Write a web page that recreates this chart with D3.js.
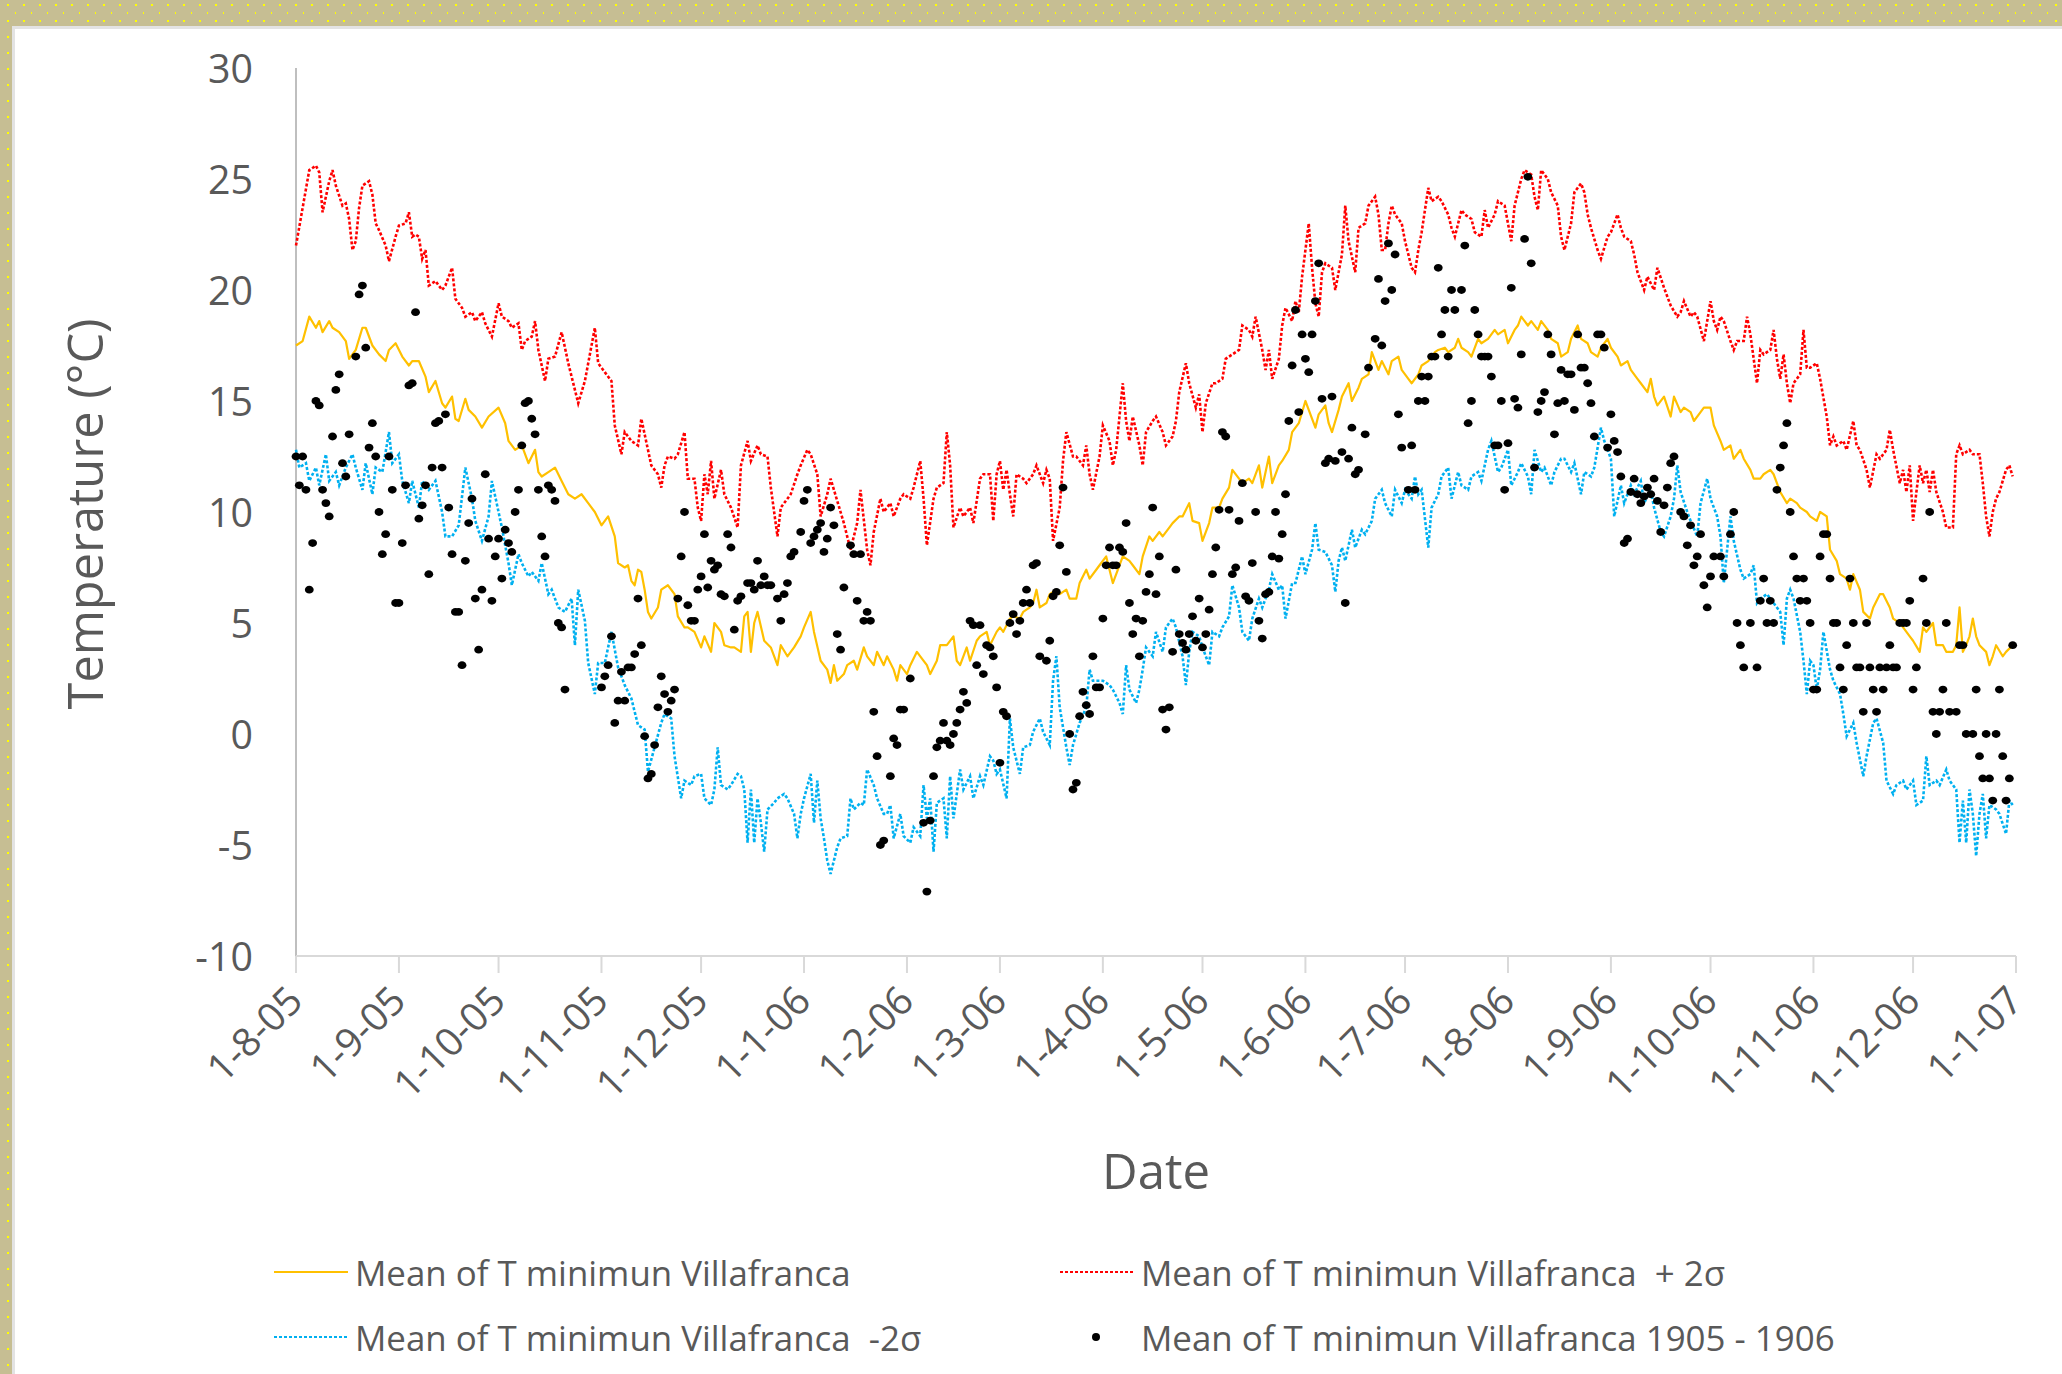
<!DOCTYPE html>
<html><head><meta charset="utf-8">
<script src="https://cdn.jsdelivr.net/npm/d3@7"></script>
<style>html,body{margin:0;padding:0;background:#fff;overflow:hidden}</style>
</head><body>
<svg id="chart" width="2062" height="1374"></svg>
<script>
// ---------------- data ----------------
const startDate = "1905-08-01";           // day 0 of the series
const tickLabels = ["1-8-05","1-9-05","1-10-05","1-11-05","1-12-05","1-1-06","1-2-06","1-3-06","1-4-06","1-5-06","1-6-06","1-7-06","1-8-06","1-9-06","1-10-06","1-11-06","1-12-06","1-1-07"];
const yTicks = [-10,-5,0,5,10,15,20,25,30];
const legendLabels = ["Mean of T minimun Villafranca","Mean of T minimun Villafranca  + 2\u03c3","Mean of T minimun Villafranca  -2\u03c3","Mean of T minimun Villafranca 1905 - 1906"];

// [day since 1-8-05, °C]
const meanSeries = [[0,17.5],[2,17.7],[4,18.8],[6,18.3],[7,18.6],[8,18.1],[10,18.6],[11,18.3],[13,18.1],[15,17.7],[16,16.9],[18,17.3],[20,18.3],[21,18.3],[23,17.5],[25,17.1],[27,16.8],[28,17.3],[30,17.6],[32,17.0],[34,16.6],[35,16.8],[37,16.8],[39,16.1],[40,15.4],[42,15.9],[44,14.9],[45,14.7],[47,15.2],[48,14.2],[49,14.1],[51,15.1],[52,14.6],[54,14.3],[56,13.8],[58,14.3],[61,14.7],[63,14.0],[64,13.2],[66,12.8],[68,13.0],[70,12.2],[72,12.8],[73,11.8],[74,11.6],[76,11.8],[78,12.0],[80,11.4],[82,10.8],[84,10.6],[86,10.8],[88,10.4],[90,10.0],[92,9.4],[94,9.8],[96,8.9],[97,7.7],[99,7.5],[100,7.6],[101,6.9],[102,6.7],[103,7.4],[104,7.3],[105,6.5],[106,5.5],
[107,5.2],[109,5.7],[110,6.5],[112,6.7],[114,6.3],[115,5.3],[117,4.8],[118,4.8],[120,4.6],[122,3.9],[123,4.4],[125,3.7],[126,5.0],[128,4.6],[129,4.0],[131,3.9],[132,3.9],[134,3.7],[135,5.3],[136,5.5],[137,3.7],[138,5.0],[139,5.5],[141,4.2],[143,3.9],[145,3.1],[146,4.0],[148,3.5],[150,3.9],[152,4.4],[153,4.8],[155,5.5],[156,4.6],[158,3.3],[160,2.9],[161,2.3],[162,3.1],[163,2.4],[165,2.7],[166,3.1],[168,3.3],[169,2.9],[171,3.9],[172,3.5],[174,3.1],[175,3.7],[177,3.1],[178,3.5],[180,2.9],[181,2.4],[182,3.1],[184,2.7],[185,3.1],[187,3.7],[188,3.5],[190,3.1],[191,2.7],[193,3.3],[194,4.0],[196,4.0],[198,4.4],[199,3.3],[200,3.1],[202,3.9],
[203,3.3],[205,4.2],[206,4.4],[208,4.6],[209,4.0],[211,4.6],[212,4.8],[213,4.6],[215,5.2],[216,5.3],[218,5.2],[219,5.5],[221,5.7],[222,5.9],[223,6.5],[224,5.7],[226,5.9],[227,6.3],[229,6.5],[230,6.3],[232,6.5],[233,6.1],[235,6.1],[236,6.8],[238,7.4],[239,7.0],[241,7.4],[242,7.6],[244,8.0],[245,7.4],[246,6.8],[248,7.6],[249,8.0],[251,7.8],[252,7.6],[254,7.2],[255,8.0],[257,8.9],[258,8.7],[260,9.1],[261,8.9],[263,9.3],[264,9.5],[266,9.8],[267,9.8],[269,10.4],[270,9.6],[272,9.5],[273,8.7],[275,9.5],[276,10.2],[278,10.2],[279,10.6],[281,11.1],[282,11.9],[284,11.5],[285,11.3],[287,11.5],[288,11.3],[290,12.1],[291,11.1],[293,12.5],[294,11.3],[296,12.1],[297,12.3],[299,12.8],[300,13.6],[302,14.0],[304,15.0],[305,14.6],[307,13.8],[308,14.4],[310,14.8],[311,14.0],[312,13.6],
[314,14.6],[315,15.2],[317,15.8],[318,15.0],[320,15.6],[321,16.0],[323,16.2],[324,17.2],[326,16.4],[327,16.8],[329,16.2],[330,16.8],[332,17.0],[333,16.4],[335,16.0],[336,15.8],[338,16.2],[339,16.6],[341,16.8],[343,17.2],[344,17.3],[346,17.4],[347,17.2],[349,17.4],[350,17.8],[351,17.4],[353,17.2],[354,17.0],[356,17.8],[357,17.6],[359,17.8],[361,18.2],[362,18.0],[364,18.2],[365,17.6],[367,18.2],[368,18.4],[369,18.8],[371,18.4],[372,18.6],[374,18.2],[375,18.6],[377,18.2],[378,17.8],[380,17.6],[381,17.0],[383,17.2],[384,17.8],[386,18.4],[387,17.8],[389,17.6],[390,17.2],[392,17.0],[393,17.4],[395,17.8],[396,17.4],[398,17.0],[399,16.6],[401,16.8],[402,16.4],[404,16.0],[405,15.8],[407,15.4],[408,16.0],[409,15.2],[410,14.8],
[412,15.2],[414,14.3],[415,15.2],[417,14.5],[418,14.7],[420,14.5],[421,14.1],[423,14.5],[424,14.7],[426,14.7],[427,13.9],[429,13.2],[430,12.8],[432,13.0],[433,12.4],[435,12.8],[436,12.4],[438,11.9],[439,11.5],[441,11.5],[442,11.7],[444,11.9],[445,11.7],[446,11.3],[447,10.9],[449,10.4],[450,10.6],[452,10.4],[453,10.2],[455,10.0],[456,9.8],[458,9.6],[459,10.0],[461,9.8],[462,8.3],[464,7.8],[465,7.2],[467,7.0],[468,6.5],[469,7.2],[471,6.5],[472,5.5],[474,5.2],[475,5.7],[477,6.3],[478,6.3],[480,5.7],[481,5.2],[483,5.0],[484,4.8],[486,4.4],[487,4.2],[489,3.7],[490,4.8],[491,4.6],[493,5.0],[494,4.0],[496,4.0],[497,3.7],[499,3.7],[500,4.0],[501,5.7],[502,3.7],[503,4.0],[504,4.4],[505,5.2],[506,4.4],[507,4.0],[509,3.7],[510,3.1],[511,3.5],[512,4.0],[514,3.5],[515,3.7],[517,4.0]];

const plusSeries = [[0,22.0],[2,23.7],[4,25.4],[6,25.6],[7,25.3],[8,23.5],[10,24.9],[11,25.4],[12,24.7],[14,23.8],[15,23.9],[16,23.2],[17,21.8],[18,22.2],[19,23.7],[20,24.7],[22,24.9],[23,24.3],[24,23.0],[25,22.7],[27,22.0],[28,21.3],[30,22.4],[31,22.9],[33,23.0],[34,23.5],[35,22.4],[36,22.5],[37,22.4],[38,21.4],[39,21.8],[40,20.2],[42,20.4],[44,20.0],[45,20.2],[47,21.0],[48,19.6],[50,19.2],[51,18.8],[53,19.0],[54,18.6],[56,19.0],[57,18.5],[59,17.9],[61,19.4],[62,18.8],[64,18.6],[65,18.3],[67,18.5],[68,17.3],[69,17.7],[71,17.9],[72,18.6],[73,17.3],[75,15.9],[76,16.9],[78,17.0],[80,18.1],[82,16.7],[83,16.1],[85,14.9],[87,15.9],[88,16.7],[90,18.3],[91,16.7],[93,16.3],[95,15.9],[96,13.9],[98,12.6],[99,13.6],[101,13.2],[103,13.0],[104,14.2],[106,12.8],
[107,12.1],[109,11.7],[110,11.1],[111,12.1],[112,12.5],[114,12.4],[115,12.6],[117,13.6],[118,11.5],[120,11.5],[121,10.2],[122,9.6],[123,11.7],[124,10.8],[125,12.3],[126,10.6],[128,11.9],[129,10.8],[131,10.2],[133,9.3],[134,12.1],[136,13.2],[137,12.3],[139,13.0],[140,12.6],[142,12.5],[143,11.1],[145,8.9],[146,10.2],[148,10.6],[149,10.8],[151,11.7],[152,12.1],[154,12.8],[155,12.6],[157,11.7],[158,9.8],[160,10.8],[161,11.5],[162,11.0],[164,10.0],[165,9.5],[167,8.3],[169,9.5],[170,11.0],[172,8.3],[173,7.6],[174,9.1],[176,10.6],[177,10.0],[179,10.4],[180,9.8],[182,10.6],[183,10.8],[185,10.6],[186,11.1],[188,12.3],[189,10.6],[190,8.5],[192,10.6],[193,11.1],[195,11.3],[196,13.6],[197,12.1],[198,9.3],[200,10.2],[201,9.8],[203,10.2],[204,9.5],[206,11.5],[207,11.7],
[209,11.7],[210,9.6],[211,11.7],[212,12.3],[213,11.0],[214,11.9],[215,10.8],[216,9.8],[217,11.7],[219,11.5],[220,11.3],[222,11.7],[223,12.1],[225,11.3],[226,11.9],[227,11.5],[228,8.7],[230,10.2],[231,12.3],[232,13.6],[234,12.5],[235,12.5],[237,12.1],[238,13.0],[239,11.7],[240,11.0],[242,12.5],[243,13.9],[245,13.2],[246,12.1],[247,12.8],[249,15.8],[250,14.1],[251,13.2],[252,14.3],[254,13.0],[255,12.1],[256,13.6],[258,14.1],[259,14.3],[261,13.6],[262,13.0],[264,13.4],[265,14.1],[266,15.4],[268,16.7],[269,15.8],[271,14.7],[272,15.3],[273,13.6],[274,14.9],[276,15.8],[277,15.8],[279,16.0],[280,16.9],[282,17.1],[284,17.3],[285,18.4],[287,18.2],[288,17.9],[289,18.8],[291,17.3],[292,16.4],[293,17.3],[294,16.0],[296,16.9],[297,18.4],[298,19.2],[300,18.6],[301,19.5],
[302,19.0],[303,20.6],[305,23.0],[306,21.0],[307,19.4],[308,18.8],[309,20.8],[310,21.2],[312,21.0],[313,20.0],[315,21.6],[316,23.8],[317,22.2],[319,20.8],[320,22.8],[322,23.0],[323,23.8],[325,24.2],[326,23.4],[327,21.8],[328,21.8],[329,23.0],[330,23.8],[331,23.4],[333,23.0],[334,22.2],[336,21.0],[337,20.8],[338,21.8],[339,22.6],[341,24.6],[342,24.0],[344,24.2],[345,24.0],[347,23.4],[348,22.8],[349,22.4],[351,23.6],[352,23.4],[354,23.2],[355,22.6],[357,22.4],[358,23.6],[359,22.8],[361,23.4],[362,24.0],[364,23.8],[365,23.0],[366,22.2],[367,23.8],[369,25.0],[370,25.4],[372,25.2],[373,24.2],[374,23.6],[375,25.4],[377,25.0],[378,24.4],[380,23.8],[381,22.4],[382,21.8],[384,23.0],[385,24.4],[387,24.8],[388,24.4],[389,23.4],[390,22.8],[392,21.8],[393,21.4],[395,22.4],[396,22.6],[398,23.4],[399,22.8],[400,22.4],[402,22.2],[403,21.6],[404,20.8],[406,20.0],[407,20.6],[409,20.0],[410,21.0],
[412,20.1],[414,19.3],[416,18.8],[417,19.0],[418,19.5],[420,18.8],[421,19.0],[422,18.8],[424,17.7],[425,18.6],[426,19.5],[427,18.6],[428,18.2],[429,18.8],[430,18.6],[432,17.7],[433,17.3],[434,17.7],[436,17.7],[437,18.8],[438,18.0],[439,16.9],[440,15.8],[441,17.3],[442,17.1],[444,17.3],[445,18.2],[446,16.9],[447,16.0],[448,17.1],[449,15.8],[450,14.9],[451,15.8],[453,16.2],[454,18.2],[455,16.5],[456,16.5],[458,16.7],[459,16.0],[461,14.3],[462,13.0],[463,13.4],[464,13.0],[466,13.2],[467,12.8],[469,14.1],[470,13.0],[471,12.8],[473,11.9],[474,11.1],[476,12.6],[477,12.4],[479,12.8],[480,13.7],[481,12.8],[483,11.3],[484,11.9],[485,10.9],[486,12.1],[487,9.6],[488,10.9],[489,12.1],[490,11.3],[491,11.9],[492,10.9],[493,11.9],[494,10.9],[496,10.0],[497,9.3],[499,9.3],[500,12.6],[501,13.0],[502,12.6],[504,12.8],[505,12.6],[507,12.6],[508,11.3],[509,9.8],[510,8.9],[511,10.0],[512,10.6],[513,10.9],[515,11.9],[516,12.1],[517,11.6]];

const minusSeries = [[0,12.8],[1,12.0],[3,12.2],[4,11.4],[6,12.0],[7,11.2],[9,12.6],[10,11.4],[12,11.8],[13,11.2],[15,12.0],[17,12.6],[18,12.0],[20,11.0],[21,12.2],[23,10.8],[24,12.0],[26,11.8],[28,13.6],[29,12.2],[31,12.6],[32,11.4],[34,10.4],[35,11.4],[37,10.2],[38,11.4],[40,11.0],[42,11.4],[44,10.0],[45,8.9],[47,8.9],[49,9.4],[51,12.0],[53,10.6],[54,9.6],[56,8.7],[58,9.8],[59,11.4],[61,10.0],[62,9.3],[64,7.7],[65,6.7],[67,8.1],[68,7.7],[70,7.1],[71,7.3],[73,6.9],[74,7.7],[76,6.3],[77,6.5],[79,5.7],[81,5.5],[83,6.1],[84,4.0],[85,6.5],[87,5.1],[88,3.2],[90,1.8],[91,3.2],[93,3.2],[95,4.6],[97,3.0],[99,2.2],[101,1.6],[103,0.4],[105,0.2],[106,-1.7],
[108,-0.6],[110,0.5],[111,0.9],[113,0.7],[114,-1.0],[116,-2.9],[117,-2.1],[119,-2.3],[120,-1.9],[122,-1.8],[123,-2.9],[125,-3.2],[126,-2.5],[127,-0.6],[128,-2.3],[130,-2.5],[131,-2.3],[133,-1.8],[134,-1.9],[135,-2.5],[136,-4.9],[137,-2.5],[138,-4.9],[139,-2.9],[140,-4.0],[141,-5.3],[142,-3.4],[144,-3.1],[145,-2.9],[147,-2.7],[148,-2.9],[150,-3.6],[151,-4.7],[152,-3.6],[153,-2.9],[155,-1.8],[156,-4.0],[157,-2.1],[158,-3.8],[159,-4.7],[160,-5.7],[161,-6.3],[163,-5.1],[164,-4.7],[166,-4.6],[167,-2.9],[168,-3.4],[170,-3.1],[171,-3.2],[172,-1.6],[174,-2.3],[175,-2.9],[177,-3.6],[178,-3.6],[179,-3.2],[180,-4.7],[182,-3.6],[183,-4.6],[185,-4.9],[186,-4.2],[188,-4.6],[189,-2.3],[190,-3.8],[191,-2.9],[192,-5.3],[193,-3.1],[195,-2.9],[196,-4.7],[197,-1.9],[198,-3.8],[200,-1.6],[201,-2.5],[203,-1.9],[204,-2.9],[206,-1.9],[207,-2.3],[209,-1.0],
[210,-1.2],[211,-1.8],[212,-1.6],[214,-2.9],[215,0.7],[216,-0.6],[218,-1.8],[219,-0.6],[221,-0.5],[222,0.1],[224,0.7],[225,0.1],[227,-0.5],[228,2.4],[229,3.5],[230,1.2],[232,-0.6],[233,-1.4],[234,-0.5],[236,0.5],[238,1.2],[239,2.9],[240,2.4],[242,2.4],[243,2.4],[245,2.2],[246,2.0],[248,1.4],[249,0.9],[250,3.1],[251,2.0],[253,1.4],[254,2.0],[255,2.9],[256,3.9],[258,3.5],[259,4.6],[261,3.7],[262,4.8],[264,5.2],[265,4.8],[267,3.5],[268,2.2],[269,3.7],[270,4.6],[272,4.4],[273,3.9],[275,3.1],[276,4.6],[278,4.4],[279,4.8],[281,5.3],[282,6.7],[284,5.7],[285,4.6],[287,4.2],[288,5.2],[290,6.1],[291,5.7],[293,6.5],[294,7.2],[296,6.5],[297,6.7],[298,5.2],[300,6.8],[301,6.8],[303,8.0],[304,7.2],[306,8.3],[307,9.5],[308,8.3],[310,8.2],
[312,7.6],[313,6.4],[314,7.8],[315,8.4],[316,7.8],[318,9.2],[319,8.4],[321,9.2],[322,9.0],[324,9.6],[325,10.6],[327,11.0],[328,10.4],[330,9.8],[331,11.0],[333,10.4],[334,11.0],[336,10.6],[337,11.6],[338,10.8],[339,11.0],[341,8.4],[342,10.2],[344,10.8],[345,11.6],[347,12.0],[348,10.6],[350,11.8],[351,11.2],[353,11.0],[354,11.6],[356,11.8],[357,11.4],[359,12.8],[360,13.2],[362,11.8],[363,12.0],[365,12.8],[366,11.2],[368,11.8],[369,12.2],[371,11.6],[372,10.8],[373,12.8],[375,11.8],[376,12.0],[378,11.2],[379,11.8],[381,12.4],[382,12.4],[384,11.8],[385,12.2],[387,10.8],[388,11.8],[390,11.6],[391,12.0],[393,13.8],[394,13.2],[396,12.4],[397,9.8],[399,11.2],[400,10.4],[402,11.2],[403,10.8],[405,11.4],[406,10.4],[408,11.0],[409,10.2],
[411,9.1],[412,8.9],[414,9.8],[415,10.6],[416,12.1],[417,10.9],[419,10.0],[420,9.6],[422,8.9],[423,10.4],[425,11.5],[426,10.6],[428,9.8],[429,8.9],[430,6.8],[431,8.3],[432,9.8],[433,8.7],[435,7.4],[436,7.0],[438,7.2],[439,7.6],[440,5.9],[441,6.1],[443,6.3],[444,6.1],[446,5.7],[447,5.5],[448,4.0],[449,6.1],[450,6.5],[451,6.1],[453,4.6],[454,3.3],[455,1.8],[456,3.3],[457,3.1],[458,2.0],[459,2.9],[460,4.6],[462,2.9],[463,2.4],[465,1.8],[466,0.9],[467,-0.1],[469,0.5],[470,-0.4],[472,-1.9],[473,-1.0],[475,0.5],[476,0.7],[478,-0.4],[479,-2.1],[481,-2.7],[482,-2.3],[484,-2.1],[485,-2.5],[487,-2.1],[488,-3.2],[490,-3.0],[491,-1.0],[492,-2.3],[494,-2.1],[495,-2.3],[497,-1.6],[498,-2.1],[500,-2.5],[501,-4.9],[502,-3.0],[503,-4.9],[504,-2.5],[505,-3.6],[506,-5.5],[507,-3.6],[508,-2.7],[509,-4.7],[510,-3.2],[512,-3.4],[513,-3.6],[515,-4.5],[516,-3.0],[517,-3.2]];

const obsSeries = [[0,12.5],[1,11.2],[2,12.5],[3,11.0],[4,6.5],[5,8.6],[6,15.0],[7,14.8],[8,11.0],[9,10.4],[10,9.8],[11,13.4],[12,15.5],[13,16.2],[14,12.2],[15,11.6],[16,13.5],[18,17.0],[19,19.8],[20,20.2],[21,17.4],[22,12.9],[23,14.0],[24,12.5],[25,10.0],[26,8.1],[27,9.0],[28,12.5],[29,11.0],[30,5.9],[31,5.9],[32,8.6],[33,11.2],[34,15.7],[35,15.8],[36,19.0],[37,9.7],[38,10.3],[39,11.2],[40,7.2],[41,12.0],[42,14.0],[43,14.1],[44,12.0],[45,14.4],[46,10.2],[47,8.1],[48,5.5],[49,5.5],[50,3.1],[51,7.8],[52,9.5],[53,10.6],[54,6.1],[55,3.8],[56,6.5],[57,11.7],[58,8.8],[59,6.0],[60,8.0],[61,8.8],[62,7.0],[63,9.2],[64,8.6],[65,8.2],[66,10.0],[67,11.0],[68,13.0],[69,14.9],[70,15.0],[71,14.2],[72,13.5],[73,11.0],[74,8.9],[75,8.0],[76,11.2],[77,11.0],[78,10.5],[79,5.0],[80,4.8],[81,2.0],[92,2.1],[93,2.6],[94,3.1],[95,4.4],[96,0.5],[97,1.5],[98,2.8],[99,1.5],[100,3.0],[101,3.0],[102,3.6],[103,6.1],[104,4.0],[105,-0.1],[106,-2.0],
[107,-1.8],[108,-0.5],[109,1.2],[110,2.6],[111,1.8],[112,1.0],[113,1.5],[114,2.0],[115,6.1],[116,8.0],[117,10.0],[118,5.8],[119,5.1],[120,5.1],[121,6.5],[122,7.1],[123,9.0],[124,6.6],[125,7.8],[126,7.4],[127,7.6],[128,6.3],[129,6.2],[130,9.0],[131,8.4],[132,4.7],[133,6.0],[134,6.2],[136,6.8],[137,6.8],[138,6.5],[139,7.8],[140,6.7],[141,7.1],[142,6.7],[143,6.7],[145,6.1],[146,5.1],[147,6.3],[148,6.8],[149,8.0],[150,8.2],[152,9.1],[153,10.5],[154,11.0],[155,8.6],[156,8.9],[157,9.2],[158,9.5],[159,8.2],[160,8.8],[161,10.2],[162,9.4],[163,4.5],[164,3.8],[165,6.6],[167,8.5],[168,8.1],[169,6.0],[170,8.1],[171,5.1],[172,5.5],[173,5.1],[174,1.0],[175,-1.0],[176,-5.0],[177,-4.8],[179,-1.9],[180,-0.2],[181,-0.5],[182,1.1],[183,1.1],[185,2.5],[189,-4.0],[190,-7.1],[191,-3.9],[192,-1.9],[193,-0.6],[194,-0.3],[195,0.5],[196,-0.3],[197,-0.5],[198,0.0],[199,0.5],[200,1.1],[201,1.9],[202,1.4],[203,5.1],[204,4.9],[205,3.1],[206,4.9],[207,2.7],[208,4.0],
[209,3.9],[210,3.5],[211,2.1],[212,-1.3],[213,1.0],[214,0.8],[215,5.0],[216,5.4],[217,4.5],[218,5.1],[219,5.9],[220,6.5],[221,5.9],[222,7.6],[223,7.7],[224,3.5],[226,3.3],[227,4.2],[228,6.2],[229,6.4],[230,8.5],[231,11.1],[232,7.3],[233,0.0],[234,-2.5],[235,-2.2],[236,0.8],[237,1.9],[238,1.3],[239,0.9],[240,3.5],[241,2.1],[242,2.1],[243,5.2],[244,7.6],[245,8.4],[246,7.6],[247,7.6],[248,8.4],[249,8.2],[250,9.5],[251,5.9],[252,4.5],[253,5.2],[254,3.5],[255,5.1],[256,6.4],[257,7.2],[258,10.2],[259,6.3],[260,8.0],[261,1.1],[262,0.2],[263,1.2],[264,3.7],[265,7.4],[266,4.5],[267,4.1],[268,3.8],[269,4.5],[270,5.3],[271,4.2],[272,6.1],[273,3.9],[274,4.5],[275,5.6],[276,7.2],[277,8.4],[278,10.1],[279,13.6],[280,13.4],[281,10.1],[282,7.2],[283,7.5],[284,9.6],[285,11.3],[286,6.2],[287,6.0],[288,7.7],[289,10.0],[290,5.1],[291,4.3],[292,6.3],[293,6.4],[294,8.0],[295,10.0],[296,7.9],[297,9.0],[298,10.8],[299,14.1],[300,16.6],[301,19.1],[302,14.5],[303,18.0],[304,16.9],[305,16.3],[306,18.0],[307,19.5],[308,21.2],[309,15.1],[310,12.2],[311,12.4],
[312,15.2],[313,12.3],[315,12.7],[316,5.9],[317,12.4],[318,13.8],[319,11.7],[320,11.9],[322,13.5],[323,16.5],[325,17.8],[326,20.5],[327,17.5],[328,19.5],[329,22.1],[330,20.0],[331,21.6],[332,14.4],[333,12.9],[335,11.0],[336,13.0],[337,11.0],[338,15.0],[339,16.1],[340,15.0],[341,16.1],[342,17.0],[343,17.0],[344,21.0],[345,18.0],[346,19.1],[347,17.0],[348,20.0],[349,19.1],[351,20.0],[352,22.0],[353,14.0],[354,15.0],[355,19.1],[356,18.0],[357,17.0],[358,17.0],[359,17.0],[360,16.1],[361,13.0],[362,13.0],[363,15.0],[364,11.0],[365,13.1],[366,20.1],[367,15.1],[368,14.7],[369,17.1],[370,22.3],[371,25.1],[372,21.2],[373,12.0],[374,14.5],[375,15.0],[376,15.4],[377,18.0],[378,17.1],[379,13.5],[380,14.9],[381,16.4],[382,15.0],[383,16.2],[384,16.2],[385,14.6],[386,18.0],[387,16.5],[388,16.5],[389,15.8],[390,14.9],[391,13.4],[392,18.0],[393,18.0],[394,17.4],[395,12.9],[396,14.4],[397,13.2],[398,12.7],[399,11.6],[400,8.6],[401,8.8],[402,10.9],[403,11.5],[404,10.8],[405,10.4],[406,10.7],[407,11.1],[408,10.8],[409,11.5],[410,10.5],[411,9.1],[412,10.3],[413,11.1],[414,12.2],[415,12.5],[417,10.0],
[418,9.8],[419,8.5],[420,9.4],[421,7.6],[422,8.0],[423,9.0],[424,6.7],[425,5.7],[426,7.1],[427,8.0],[429,8.0],[430,7.1],[432,9.0],[433,10.0],[434,5.0],[435,4.0],[436,3.0],[438,5.0],[440,3.0],[441,6.0],[442,7.0],[443,5.0],[444,6.0],[445,5.0],[446,11.0],[447,12.0],[448,13.0],[449,14.0],[450,10.0],[451,8.0],[452,7.0],[453,6.0],[454,7.0],[455,6.0],[456,5.0],[457,2.0],[458,2.0],[459,8.0],[460,9.0],[461,9.0],[462,7.0],[463,5.0],[464,5.0],[465,3.0],[466,2.0],[467,4.0],[468,7.0],[469,5.0],[470,3.0],[471,3.0],[472,1.0],[473,5.0],[474,3.0],[475,2.0],[476,1.0],[477,3.0],[478,2.0],[479,3.0],[480,4.0],[481,3.0],[482,3.0],[483,5.0],[484,5.0],[485,5.0],[486,6.0],[487,2.0],[488,3.0],[490,7.0],[491,5.0],[492,10.0],[493,1.0],[494,0.0],[495,1.0],[496,2.0],[497,5.0],[498,1.0],[500,1.0],[501,4.0],[502,4.0],[503,0.0],[505,0.0],[506,2.0],[507,-1.0],[508,-2.0],[509,0.0],[510,-2.0],[511,-3.0],[512,0.0],[513,2.0],[514,-1.0],[515,-3.0],[516,-2.0],[517,4.0]];

// ---------------- chart ----------------
const W = 2062, H = 1374;
const FONT = "'Open Sans','Noto Sans','DejaVu Sans',sans-serif";
const TXT = "#595959";
const DOTTED = "3 2";
const svg = d3.select("#chart");

const defs = svg.append("defs");
const pat = defs.append("pattern").attr("id","burlap").attr("width",16).attr("height",16).attr("patternUnits","userSpaceOnUse");
pat.append("rect").attr("width",16).attr("height",16).attr("fill","#C6BE93");
pat.append("rect").attr("x",7).attr("y",4).attr("width",2).attr("height",2).attr("fill","#FFFF00");
pat.append("rect").attr("x",15).attr("y",12).attr("width",2).attr("height",2).attr("fill","#FFFF00");

svg.append("rect").attr("width",W).attr("height",H).attr("fill","url(#burlap)");
svg.append("rect").attr("x",13.5).attr("y",27.5).attr("width",W).attr("height",H)
  .attr("fill","#fff").attr("stroke","#E3E3E3").attr("stroke-width",3);

const t0 = d3.timeParse("%Y-%m-%d")(startDate);
const toDate = d => d3.timeDay.offset(t0, d);
const parseTick = s => { const [d,m,y] = s.split("-").map(Number); return new Date(1900+y, m-1, d); };
const tickDates = tickLabels.map(parseTick);

const x = d3.scaleTime().domain([tickDates[0], tickDates[tickDates.length-1]]).range([296, 2016]);
const y = d3.scaleLinear().domain([-10, 30]).range([956, 68]);

// axes
svg.append("line").attr("x1",296).attr("x2",296).attr("y1",y(30)).attr("y2",y(-10))
  .attr("stroke","#BFBFBF").attr("stroke-width",2);
svg.append("line").attr("x1",296).attr("x2",2016).attr("y1",y(-10)).attr("y2",y(-10))
  .attr("stroke","#D9D9D9").attr("stroke-width",2);
svg.selectAll(".xt").data(tickDates).enter().append("line")
  .attr("x1",d=>x(d)).attr("x2",d=>x(d)).attr("y1",y(-10)).attr("y2",y(-10)+17)
  .attr("stroke","#D9D9D9").attr("stroke-width",2);

function fit(sel, target){
  const w = sel.node().getComputedTextLength();
  sel.attr("font-size", parseFloat(sel.attr("font-size")) * target / w);
  return parseFloat(sel.attr("font-size"));
}

// y tick labels
const probe = svg.append("text").attr("font-family",FONT).attr("font-size",40).text("30");
const tickFS = fit(probe, 45); probe.remove();
svg.selectAll(".yl").data(yTicks).enter().append("text")
  .attr("x",253).attr("y",d=>y(d)).attr("text-anchor","end").attr("dominant-baseline","central")
  .attr("font-family",FONT).attr("font-size",tickFS).attr("fill",TXT).text(d=>String(d));

// x tick labels
svg.selectAll(".xl").data(tickDates).enter().append("text")
  .attr("transform",d=>`translate(${x(d)+9},1003) rotate(-45)`)
  .attr("text-anchor","end").attr("font-family",FONT).attr("font-size",tickFS).attr("fill",TXT)
  .text((d,i)=>tickLabels[i]);

// titles
const xt = svg.append("text").attr("x",1156).attr("y",1170).attr("text-anchor","middle")
  .attr("dominant-baseline","central").attr("font-family",FONT).attr("font-size",44).attr("fill",TXT).text("Date");
fit(xt, 108);
const yt = svg.append("text").attr("transform","translate(84,514) rotate(-90)").attr("text-anchor","middle")
  .attr("dominant-baseline","central").attr("font-family",FONT).attr("font-size",44).attr("fill",TXT).text("Temperature (°C)");
fit(yt, 391);

// series
const line = d3.line().x(d=>x(toDate(d[0]))).y(d=>y(d[1]));
const plot = svg.append("g");
plot.append("path").datum(meanSeries).attr("d",line).attr("fill","none")
  .attr("stroke","#FFC000").attr("stroke-width",2.2).attr("stroke-linejoin","round");
plot.append("path").datum(plusSeries).attr("d",line).attr("fill","none")
  .attr("stroke","#FF0000").attr("stroke-width",2.6).attr("stroke-dasharray",DOTTED);
plot.append("path").datum(minusSeries).attr("d",line).attr("fill","none")
  .attr("stroke","#00B0F0").attr("stroke-width",2.6).attr("stroke-dasharray",DOTTED);
plot.selectAll(".dot").data(obsSeries).enter().append("ellipse")
  .attr("cx",d=>x(toDate(d[0]))).attr("cy",d=>y(d[1])).attr("rx",4.4).attr("ry",3.9).attr("fill","#000");

// legend
const lg = svg.append("g");
const rows = [
  {x:274, y:1272, type:"line", color:"#FFC000", dash:null, label:legendLabels[0]},
  {x:1060, y:1272, type:"line", color:"#FF0000", dash:DOTTED, label:legendLabels[1]},
  {x:274, y:1337, type:"line", color:"#00B0F0", dash:DOTTED, label:legendLabels[2]},
  {x:1060, y:1337, type:"dot", color:"#000", dash:null, label:legendLabels[3]}
];
const lp = svg.append("text").attr("font-family",FONT).attr("font-size",34).text(legendLabels[0]);
const legFS = fit(lp, 496); lp.remove();
rows.forEach(r=>{
  if(r.type==="line"){
    lg.append("line").attr("x1",r.x).attr("x2",r.x+74).attr("y1",r.y).attr("y2",r.y)
      .attr("stroke",r.color).attr("stroke-width",2.2).attr("stroke-dasharray",r.dash);
  } else {
    lg.append("circle").attr("cx",r.x+36).attr("cy",r.y).attr("r",4).attr("fill",r.color);
  }
  lg.append("text").attr("x",r.x+81).attr("y",r.y).attr("dominant-baseline","central")
    .attr("font-family",FONT).attr("font-size",legFS).attr("fill",TXT)
    .style("white-space","pre").text(r.label);
});
</script>
</body></html>
